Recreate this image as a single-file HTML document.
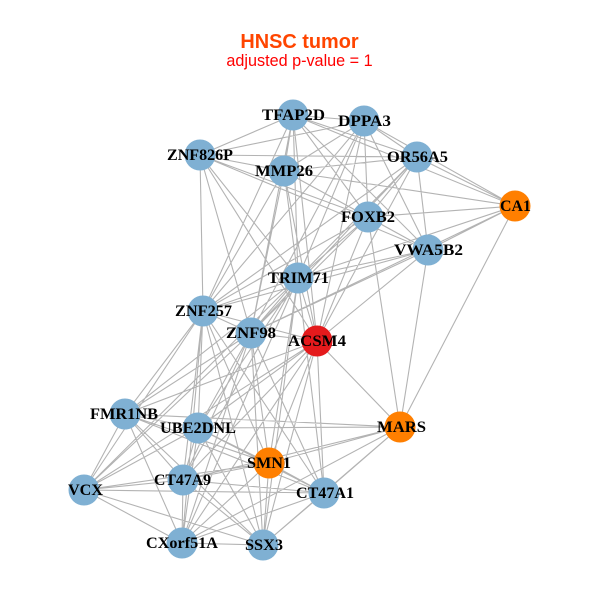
<!DOCTYPE html>
<html><head><meta charset="utf-8"><style>
html,body{margin:0;padding:0;background:#fff}
svg{display:block}
.l{font-family:"Liberation Serif",serif;font-weight:bold;font-size:16px;fill:#000;text-anchor:middle}
</style></head><body>
<svg width="600" height="600" viewBox="0 0 600 600" xmlns="http://www.w3.org/2000/svg">
<rect width="600" height="600" fill="#fff"/>
<path fill="none" stroke="#b3b3b3" stroke-width="1.1" d="
M293 115L364 121M293 115L200 155M293 115L284 171M293 115L417 157M293 115L515 206M293 115L368 217M293 115L428 250M293 115L298 278M293 115L203 311M293 115L251 333M293 115L317 341
M364 121L200 155M364 121L284 171M364 121L417 157M364 121L515 206M364 121L368 217M364 121L428 250M364 121L298 278M364 121L203 311M364 121L251 333M364 121L317 341
M200 155L284 171M200 155L417 157M200 155L368 217M200 155L428 250M200 155L298 278M200 155L203 311M200 155L251 333M200 155L317 341
M284 171L417 157M284 171L515 206M284 171L368 217M284 171L428 250M284 171L298 278M284 171L203 311M284 171L251 333M284 171L317 341
M417 157L515 206M417 157L368 217M417 157L428 250M417 157L298 278M417 157L203 311M417 157L251 333M417 157L317 341
M515 206L368 217M515 206L428 250M515 206L298 278M515 206L251 333M515 206L400 427
M368 217L428 250M368 217L298 278M368 217L203 311M368 217L251 333M368 217L317 341M368 217L400 427
M428 250L298 278M428 250L203 311M428 250L251 333M428 250L317 341M428 250L400 427
M298 278L203 311M298 278L251 333M298 278L317 341M298 278L125 414M298 278L198 428M298 278L269 463M298 278L183 480M298 278L84 490M298 278L324 493M298 278L182 543M298 278L263 545
M203 311L251 333M203 311L317 341M203 311L125 414M203 311L198 428M203 311L269 463M203 311L183 480M203 311L84 490M203 311L324 493M203 311L182 543M203 311L263 545
M251 333L317 341M251 333L125 414M251 333L198 428M251 333L269 463M251 333L183 480M251 333L84 490M251 333L324 493M251 333L182 543M251 333L263 545
M317 341L400 427M317 341L125 414M317 341L198 428M317 341L269 463M317 341L183 480M317 341L84 490M317 341L324 493M317 341L182 543M317 341L263 545
M125 414L198 428M125 414L400 427M125 414L269 463M125 414L183 480M125 414L84 490M125 414L324 493M125 414L182 543M125 414L263 545
M198 428L400 427M198 428L269 463M198 428L183 480M198 428L84 490M198 428L324 493M198 428L182 543M198 428L263 545
M400 427L269 463M400 427L183 480M400 427L324 493M400 427L182 543M400 427L263 545
M269 463L183 480M269 463L84 490M269 463L324 493M269 463L182 543M269 463L263 545
M183 480L84 490M183 480L324 493M183 480L182 543M183 480L263 545
M84 490L324 493M84 490L182 543M84 490L263 545
M324 493L182 543M324 493L263 545
M182 543L263 545"/>
<g fill="#7fb0d3">
<circle cx="293" cy="115" r="15.5"/><circle cx="364" cy="121" r="15.5"/><circle cx="200" cy="155" r="15.5"/><circle cx="284" cy="171" r="15.5"/><circle cx="417" cy="157" r="15.5"/><circle cx="368" cy="217" r="15.5"/><circle cx="428" cy="250" r="15.5"/><circle cx="298" cy="278" r="15.5"/><circle cx="203" cy="311" r="15.5"/><circle cx="251" cy="333" r="15.5"/><circle cx="125" cy="414" r="15.5"/><circle cx="198" cy="428" r="15.5"/><circle cx="183" cy="480" r="15.5"/><circle cx="84" cy="490" r="15.5"/><circle cx="324" cy="493" r="15.5"/><circle cx="182" cy="543" r="15.5"/><circle cx="263" cy="545" r="15.5"/>
</g>
<g fill="#ff7f00">
<circle cx="515" cy="206" r="15.5"/><circle cx="400" cy="427" r="15.5"/><circle cx="269" cy="463" r="15.5"/>
</g>
<circle cx="317" cy="341" r="15.5" fill="#e41a1c"/>
<g>
<text class="l" lengthAdjust="spacingAndGlyphs" x="293.5" y="120" textLength="63">TFAP2D</text>
<text class="l" lengthAdjust="spacingAndGlyphs" x="364.5" y="126" textLength="53">DPPA3</text>
<text class="l" lengthAdjust="spacingAndGlyphs" x="200" y="160" textLength="66">ZNF826P</text>
<text class="l" lengthAdjust="spacingAndGlyphs" x="284" y="176" textLength="58">MMP26</text>
<text class="l" lengthAdjust="spacingAndGlyphs" x="417.5" y="162" textLength="61">OR56A5</text>
<text class="l" lengthAdjust="spacingAndGlyphs" x="515.5" y="211" textLength="31">CA1</text>
<text class="l" lengthAdjust="spacingAndGlyphs" x="368" y="222" textLength="54">FOXB2</text>
<text class="l" lengthAdjust="spacingAndGlyphs" x="428.5" y="255" textLength="69">VWA5B2</text>
<text class="l" lengthAdjust="spacingAndGlyphs" x="298.5" y="283" textLength="61">TRIM71</text>
<text class="l" lengthAdjust="spacingAndGlyphs" x="203.5" y="316" textLength="57">ZNF257</text>
<text class="l" lengthAdjust="spacingAndGlyphs" x="251" y="338" textLength="50">ZNF98</text>
<text class="l" lengthAdjust="spacingAndGlyphs" x="317" y="346" textLength="58">ACSM4</text>
<text class="l" lengthAdjust="spacingAndGlyphs" x="124" y="419" textLength="68">FMR1NB</text>
<text class="l" lengthAdjust="spacingAndGlyphs" x="198" y="433" textLength="76">UBE2DNL</text>
<text class="l" lengthAdjust="spacingAndGlyphs" x="401.5" y="432" textLength="49">MARS</text>
<text class="l" lengthAdjust="spacingAndGlyphs" x="269" y="468" textLength="44">SMN1</text>
<text class="l" lengthAdjust="spacingAndGlyphs" x="182.5" y="485" textLength="57">CT47A9</text>
<text class="l" lengthAdjust="spacingAndGlyphs" x="85.5" y="495" textLength="35">VCX</text>
<text class="l" lengthAdjust="spacingAndGlyphs" x="325" y="498" textLength="58">CT47A1</text>
<text class="l" lengthAdjust="spacingAndGlyphs" x="182" y="548" textLength="72">CXorf51A</text>
<text class="l" lengthAdjust="spacingAndGlyphs" x="264" y="550" textLength="38">SSX3</text>
</g>
<text x="299.5" y="48" text-anchor="middle" font-family="Liberation Sans, sans-serif" font-weight="bold" font-size="19.9px" fill="#ff4500">HNSC tumor</text>
<text x="299.5" y="66" text-anchor="middle" font-family="Liberation Sans, sans-serif" font-size="16.2px" fill="#ff0000">adjusted p-value = 1</text>
</svg>
</body></html>
